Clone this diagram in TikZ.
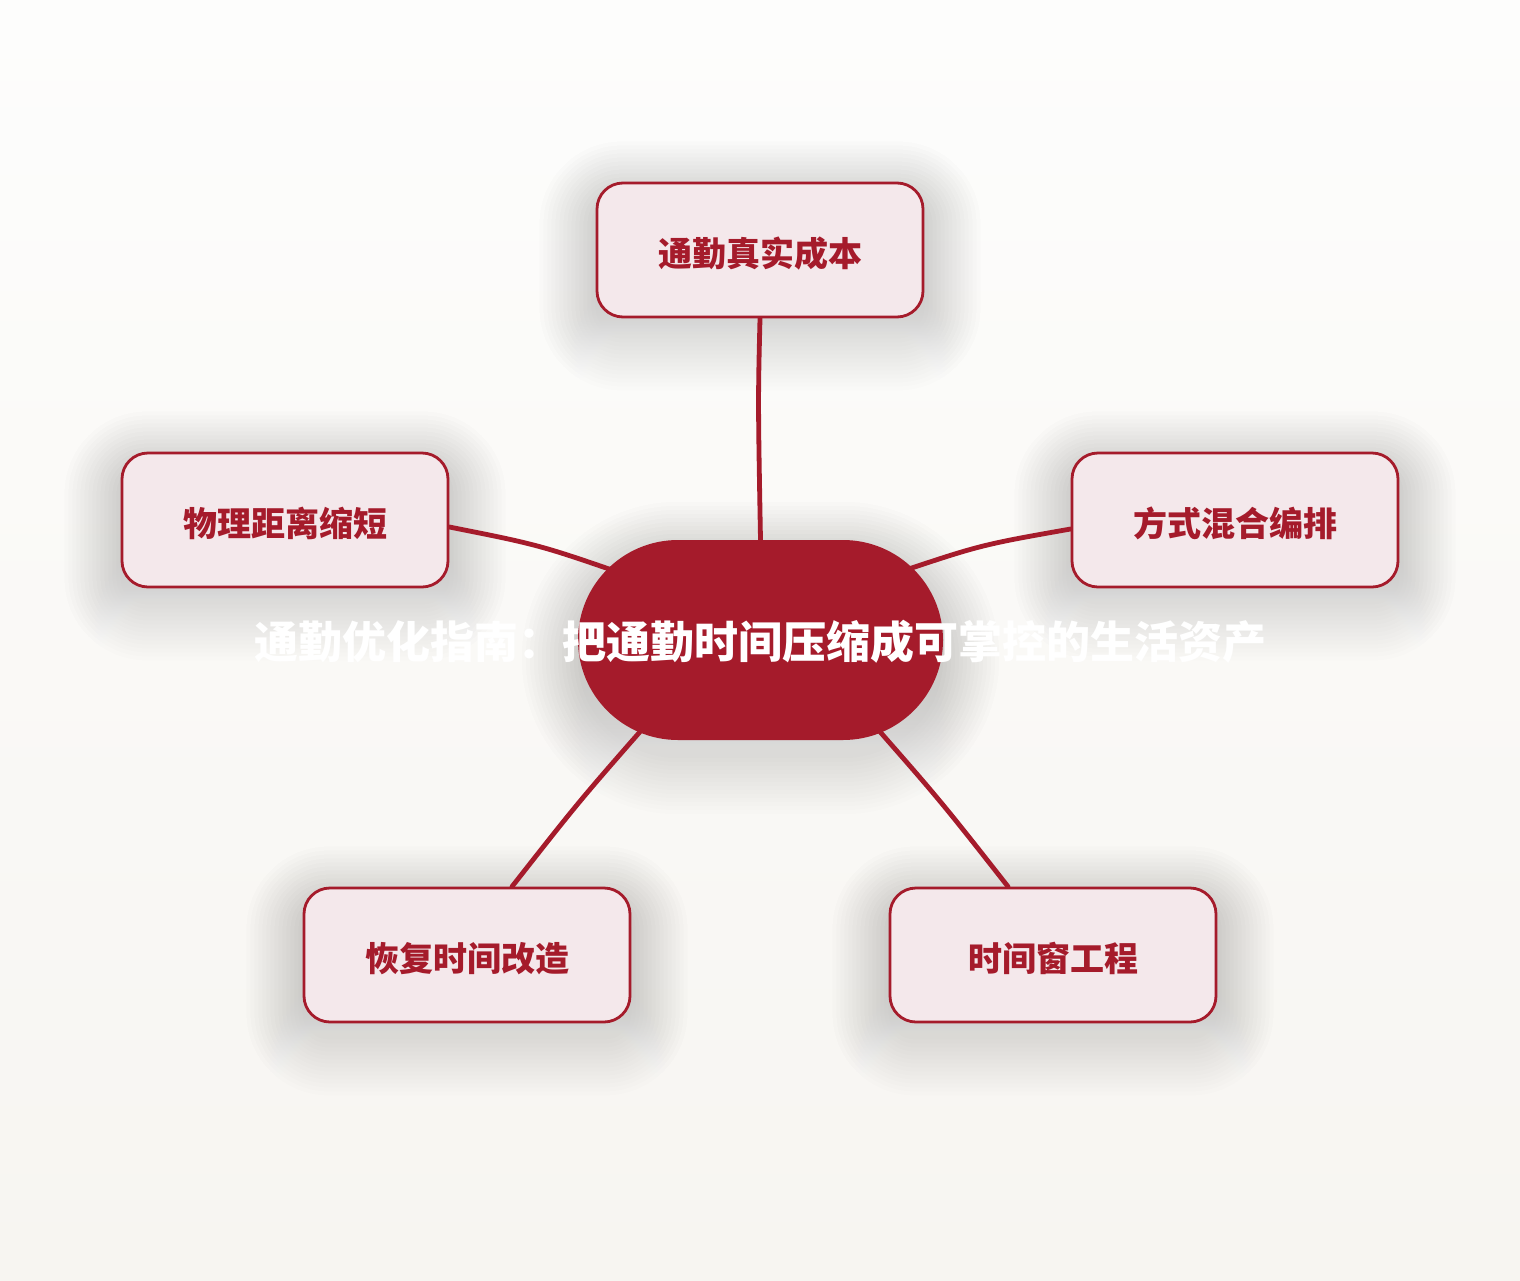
\documentclass[tikz,border=0pt]{standalone}
\usepackage{fontspec}
\setmainfont{Noto Sans CJK SC}
\usetikzlibrary{calc}
\definecolor{crim}{HTML}{A51B2B}
\definecolor{leafbg}{HTML}{F4E8EB}
\definecolor{bgtop}{HTML}{FDFDFC}
\definecolor{bgbot}{HTML}{F7F5F1}
\definecolor{shade}{HTML}{6A6660}
\pgfdeclarelayer{bg}
\pgfdeclarelayer{shadowlayer}
\pgfdeclarelayer{edges}
\pgfsetlayers{bg,shadowlayer,edges,main}
\newcommand{\softshadow}[3]{% name, corner radius, y offset
  \begin{pgfonlayer}{shadowlayer}
  \foreach \e in {0,4,...,56}{
    \fill[shade, opacity=0.0065, rounded corners={#2+\e}]
      ($(#1.north west)+(-\e,-\e+#3)$) rectangle ($(#1.south east)+(\e,\e+#3)$);
  }
  \end{pgfonlayer}}
\begin{document}
\begin{tikzpicture}[x=1pt,y=-1pt,
  leaf/.style={draw=crim, line width=2.8pt, fill=leafbg, rounded corners=26pt,
    minimum width=326pt, minimum height=134pt, text=crim, inner sep=0pt,
    text height=36pt, text depth=4pt,
    font=\fontsize{34}{40}\selectfont\bfseries},
  hub/.style={fill=crim, rounded corners=100pt, minimum width=365pt, minimum height=200pt, inner sep=0pt},
  titletext/.style={text=white, inner sep=0pt, font=\fontsize{44}{50}\selectfont\bfseries},
  link/.style={draw=crim, line width=4.8pt, line cap=round}]
\begin{pgfonlayer}{bg}
\fill[top color=bgtop, bottom color=bgbot] (0,0) rectangle (1520,1280);
\end{pgfonlayer}
\useasboundingbox (0,0) rectangle (1520,1280);

\node[hub] (hub) at (760.5,640) {};
\node[titletext] (title) at (760.5,642) {通勤优化指南：把通勤时间压缩成可掌控的生活资产};

\node[leaf] (top) at (760,250) {通勤真实成本};
\node[leaf] (l) at (285,520) {物理距离缩短};
\node[leaf] (r) at (1235,520) {方式混合编排};
\node[leaf] (bl) at (467,955) {恢复时间改造};
\node[leaf] (br) at (1053,955) {时间窗工程};

\softshadow{hub}{100}{18}
\softshadow{top}{26}{16}
\softshadow{l}{26}{16}
\softshadow{r}{26}{16}
\softshadow{bl}{26}{16}
\softshadow{br}{26}{16}

\coordinate (hL) at (635,578);
\coordinate (hR) at (888,576);
\coordinate (hBL) at (660,709);
\coordinate (hBR) at (860,709);

\begin{pgfonlayer}{edges}
\draw[link] (top.south) .. controls (758,400) .. (hub.north);
\draw[link] ($(l.east)+(0,7)$) .. controls (540,545) .. (hL);
\draw[link] ($(r.west)+(0,9)$) .. controls (980,545) .. (hR);
\draw[link] ($(bl.north)+(45,0)$) .. controls (580,800) .. (hBL);
\draw[link] ($(br.north)+(-45,0)$) .. controls (940,800) .. (hBR);
\end{pgfonlayer}
\end{tikzpicture}
\end{document}
